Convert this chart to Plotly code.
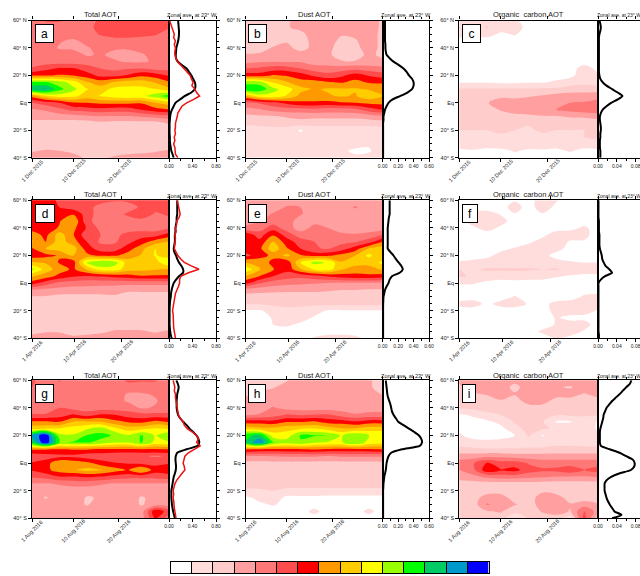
import plotly.graph_objects as go

W, H = 640, 576
FONT = "Liberation Sans, Arial, sans-serif"

LAT_GRID = [60, 55, 50, 45, 40, 35, 30, 25, 20, 15, 10, 5, 0, -5, -10, -15, -20, -25, -30, -35, -40]
LAT_FINE = [60 - 2.5 * i for i in range(41)]
DAYS_31 = [1, 4, 7, 10, 13, 16, 19, 22, 25, 28, 31]
DAYS_30 = [1, 3.9, 6.8, 9.7, 12.6, 15.5, 18.4, 21.3, 24.2, 27.1, 30]

# Contour class index per grid node (rows = latitudes, columns = days)
Z_A = [
[4,4.6,4.6,4,4,4.7,5,5,4.8,4.7,4.6],
[4,4,4,4,4,5,5,5,5,4.6,4.6],
[4,4,4,4,4,4.6,4.8,5,4.8,4.6,4],
[4,4,3.6,3.3,3.8,4,4.2,4,4,4,4],
[4,4,3.4,3.3,3.4,3.8,3.6,3.6,3.8,4,4],
[3.7,3.8,4,4,3.4,3.6,3.3,3.2,3.4,3.8,4],
[4,4,4,4,4,4,3.6,3.4,3.4,3.6,3.6],
[4.6,5.2,5.6,5.6,5,4.5,4.2,4.4,4.5,4.2,4.2],
[6.4,6.4,6.6,6.5,6,5.2,5.2,5.6,6.3,6,5.4],
[10.6,10.6,10,9,7.6,7,7.6,8,8,7.4,6.6],
[12.2,12.6,10.8,9.8,8.6,8,8.8,8.8,8.8,8.5,7.7],
[7,8.4,9,8.8,8,8.6,9,9.2,9.2,10,11],
[4.5,5,5.5,6.4,6.5,6.7,6.7,6.7,6.6,7.5,8],
[3.4,3.6,4.2,4.8,5,5.2,5,5,5.5,6.1,6.4],
[3,3,3,3,3.2,3.4,3.4,3.4,3.6,3.8,4],
[2,2,2,2,2,2.2,2,2,2,2,2.6],
[2,2,2,2,2,2,2,2,2,2,2],
[2,2,2,2,2,2,2,2,2,2,2],
[2,2,2,2,2,2,2,2,2,2,2],
[2.4,2.6,2.5,2.3,2.2,2.2,2.2,2.2,2.3,2.4,2.6],
[3,3,3,2.8,2.4,2.4,2.6,2.8,2.8,3,3],
]
Z_B = [
[2,2,2,2.3,3,3,3,2.8,2.7,3,2.3],
[2,2,2,2.4,2.8,3,3,2.8,2.7,3,2.3],
[2,2,2,2.4,2.2,3,3,2.6,2.7,3,2.2],
[2,2,2,2.4,2.1,2.8,3,2.2,2.4,3,2.2],
[2,2,2.6,2.8,2.1,2.8,2.8,2,2.2,3,2.2],
[2.6,2.7,2.8,3,3,3,2.7,2,2,2.8,2.2],
[3.2,3.4,3.5,3.4,3.4,3,2.9,2.6,2.6,2.8,2.8],
[4.5,4.7,5,5,4.5,4,4,4,4.2,4,3.8],
[6,6,6.6,6.4,6,5.3,4.8,5.3,6,5.4,5],
[10.2,10,8.4,7.6,6.9,7,6.6,6.4,6.8,6.4,6.4],
[11.2,11.2,9.8,9,7.8,7.4,7.6,7.6,7.6,7.4,7],
[7.5,9,9.2,8.4,7.2,7.2,7.4,7.6,7.4,8.2,7.6],
[4.2,4.6,5.2,5.8,6.3,6.3,6.2,6.4,6.5,6.7,6.8],
[3.2,3.4,3.8,4,4,4.2,4,4,4.2,5,5.5],
[2.2,2.3,2.4,2.6,2.8,2.8,2.8,2.8,2.8,3,3.2],
[1.7,1.8,2,2,2,1.8,1.8,1.8,1.8,1.8,2],
[1,1,1,1,.4,1,1,1,1,1,1],
[1,1,1,.6,.8,1,1,1,1,1,1],
[1,1,.8,1,.6,.6,1,1,.7,.6,1],
[1,1,.7,.9,1,1,1,.6,.4,.4,1],
[1,1,.6,1,1,1,1,1,.6,.8,1],
]
Z_C = [
[1.1,1,1,1.1,.6,.2,0,0,0,0,0],
[1,1,1.6,1,.9,.2,0,0,0,0,0],
[1,.7,.9,.3,.6,0,0,0,0,0,0],
[0,0,0,0,0,0,0,0,0,0,0],
[0,0,0,0,0,0,0,0,0,0,0],
[0,0,0,0,0,0,0,0,0,0,0],
[0,0,0,0,0,0,0,0,0,0,0],
[0,0,0,0,0,0,0,0,0,1,.2],
[0,0,0,0,0,0,0,0,.2,1.1,.6],
[.4,.4,.4,.3,.3,.4,.4,.7,1.1,1.2,.9],
[1.6,1.6,1.6,1.6,1.6,1.6,1.7,1.7,1.9,2,2],
[1.8,1.9,2,2.2,2.1,2.4,2.6,2.9,3,3,3.1],
[2,2.1,2.4,3.2,3.2,3.1,3.2,3.3,3.5,3.6,3.9],
[2,2,2,2.6,3.1,3.2,3.4,3.5,3.8,4.1,4.2],
[2,2,2,2,2.1,2.2,2.4,2.4,2.6,2.6,2.8],
[1.7,1.7,1.8,2,2,1.6,1.8,1.8,1.9,2,2],
[1.5,1.5,1.5,1.6,1.5,1.3,1.7,1.5,1.5,1.5,1.6],
[1.5,1.2,1.3,1.4,1.2,1,1.2,1,1,1.5,1.6],
[1.2,1,1,1.2,.9,1.1,1.4,.9,1.2,1,1.1],
[.2,.4,.2,.2,.6,.3,.3,.3,.6,.2,.3],
[0,0,0,0,.2,0,0,0,0,0,0],
]
Z_D = [
[6,6.3,5.2,5,5,5,4.6,4.7,5,5,5],
[6,6,5.5,5,5,4,4,4,4.7,5,5],
[6,6,5.6,6.4,5,4,4,4.7,5.5,4.3,4.7],
[6,6,6.4,7.5,4.8,4,3.6,4,4,4,4.2],
[6,6,6.6,6.8,5.4,4.2,3.6,4,4,4,4.4],
[7,6.2,8,6.6,4.8,4.5,4.2,4.8,5,5,6],
[7.6,6.5,8,7,5.5,4.3,4.3,5.2,6,7,7.5],
[6.4,7.5,8,8,6,5,5,6,7.2,8.5,8.3],
[6,6.2,6.6,7.5,6.8,6.3,6.3,7,7.6,8.6,8],
[7.6,7.4,6.4,6,9.5,10.4,10,8,8.2,8,9.5],
[9.8,8,7,6.3,7.6,9,9,8,7.8,7.6,7.4],
[7.6,7,6.2,5.6,5.4,5.6,5.8,6,6.4,6.3,6.3],
[6,5,4.2,4,3.9,3.8,3.8,3.8,3.8,3.8,3.8],
[3.4,3.2,3.1,3,3,3,3,2.7,2.7,2.7,2.7],
[2.4,2.4,2.2,2.2,2.2,2.2,2.3,2,2,2,2],
[2,2,2,2,2,2,2,2,2,2,2],
[2,2,2,2,2,2,2,2,2,2,2],
[2,2,2,2,2,2,2,2,2,2,2],
[2,2,2,2,2,2,2,2,2,2,2],
[2.1,2.4,2.4,2,2.2,2.3,2.6,2.6,2.6,2.4,2.6],
[3,3,3,2.8,2.8,3,3,3,3,3,3.2],
]
Z_E = [
[3,3,3,3,3,3,3,3,3,3,3],
[3,3,3,3.6,3.5,3,3,3,3.6,3,3],
[3,3,3.6,4,3.6,3,3,3,3,3,3],
[3,3.4,4,4,3,3.2,3,3,3,3,3],
[3.8,4,5,4,3,3.8,3.5,3,3,3,3],
[6.2,5,6.4,5,4,4.2,4,3.7,3.6,3.8,4.5],
[6.4,5.8,7.5,6,5,4.5,4.3,4.2,4.4,5,6.5],
[6,6.2,8.2,6.6,5.5,4.6,4.4,5,6,7.6,8],
[5.2,6,6.8,7.8,6.6,6.2,6.3,6.9,7.5,8.8,7.5],
[7.5,7.2,6.2,5.8,8.5,9.8,9.4,7.6,8,7.8,8.8],
[9.2,7.6,6.6,5.8,7.4,8.6,9,7.6,7,7.2,7.6],
[7.4,6.5,5.5,5,4.8,5.2,5.6,6,6.2,6.2,6],
[5.8,4.6,4,3.8,3.7,3.6,3.5,3.4,3.4,3.4,3.4],
[3,2.9,2.8,2.7,2.7,2.7,2.6,2.5,2.5,2.4,2.4],
[2,2,2,2,2,2,2,2,2,2,2],
[1.6,1.6,1.8,1.7,1.8,1.7,1.8,1.8,1.8,1.8,1.8],
[.4,.4,.8,1.3,1.1,.9,.4,.4,.4,.4,.4],
[0,0,.6,1,1,.4,0,0,0,0,0],
[0,0,.5,.7,.3,0,0,0,0,0,0],
[0,0,0,0,0,0,0,0,0,0,0],
[0,0,0,0,0,.6,1,1,.8,.2,0],
]
Z_F = [
[0,0,0,0,.4,0,1.1,.6,0,0,0],
[0,0,0,0,1,0,1.1,.2,0,0,0],
[0,.8,1,.4,.4,0,.4,0,0,0,0],
[0,1,1.1,.9,0,0,0,0,0,0,0],
[0,.3,.9,.3,0,0,0,0,.2,.7,0],
[0,0,0,0,0,0,.2,1.1,1,.8,0],
[0,0,0,0,0,.3,.9,1,.4,.4,0],
[0,0,0,.2,.6,1,1.1,.8,.2,0,0],
[0,0,.2,.9,1,1,.8,.2,0,0,0],
[.6,.8,1,1,1,1,1,.8,.6,.5,.5],
[1.5,1.4,1.6,1.6,1.6,1.6,1.5,1.6,1.2,1.1,1.2],
[1.6,1.4,1.2,1,1.2,1,1,.6,.4,.2,.2],
[.6,.6,.2,0,0,0,0,0,0,0,0],
[0,0,0,0,0,0,0,0,0,0,0],
[0,0,0,0,.6,0,0,0,0,.7,.9],
[.8,1,.2,.9,1,.4,.2,.8,1,1,.7],
[0,0,0,0,0,0,0,.9,1.1,.9,.4],
[0,0,0,0,0,0,0,.6,.2,.2,.1],
[0,0,0,.2,0,0,0,.6,.9,.9,0],
[0,0,0,0,0,0,.7,1,1,.4,0],
[0,0,0,0,0,0,0,.6,.2,0,0],
]
Z_G = [
[4.7,4,4.6,4,4,4,4,4.7,4.6,4.6,4],
[4.5,4,4,4,3.9,4,4.1,4,4,4,4],
[4,4,4,4,4,4,4,3.4,3.4,3.6,4],
[4,4,4.2,4,4,3.8,3.8,3.4,3.2,3.4,4],
[4,4,4.5,4.2,4,4,4,4,3.4,3.6,3.8],
[4.6,4.6,5,5.6,5,5.6,5.5,5,4.8,4.8,4.8],
[6.6,6.6,6.4,7.5,7.6,7.5,6.8,6.4,6.2,6.8,6.4],
[8.2,8.4,8.6,9,9.4,10,8.8,8,8.2,8.6,8.4],
[12.5,14.4,9.8,9.6,10.6,10.8,10.4,9.6,10.6,9.4,10.5],
[11.6,14.4,10.5,10.6,10.6,10.2,9.6,9.6,10.6,9.2,9.4],
[6.6,6.6,6.4,6.6,6.6,6.4,6.4,6.3,6.4,6.4,6.5],
[4.8,5,5.2,5.2,4.8,4.8,4.6,4.6,4.6,4.4,4.6],
[5.6,6,7.4,7.2,6.8,6,5.6,5.4,5.2,5.2,5.4],
[5.6,6.2,7,7.4,7.8,7.6,7,6.4,7.6,6,6.3],
[4.6,4.8,5.4,5.4,5.6,5.4,5,4.8,4.8,4.8,5],
[3.4,3.4,3.6,3.8,3.8,3.6,3.4,3.4,3.4,3.4,3.4],
[3,3,3,3,3,3,3,3,3,3,3],
[3,2.4,3,3.2,2.4,2.6,3,3,2.4,2.8,3],
[3,3,3.1,3,2.4,3,3.4,3,2.4,3,3],
[3,3,3,3,3,3,3,3,3,6.3,5],
[3,3,3,3.4,3.2,3,3.2,3,3,5.5,4],
]
Z_H = [
[2,2,2,2.4,3,2.8,2.8,2.6,3,2.6,2.2],
[2,2,2.4,3,3,2.9,2.6,2.6,3,2.6,2.2],
[2.4,2.8,3,3,3,3,3,2.8,3.1,3,2.4],
[2.6,3,3,3,3,3,3,3,3,2.9,2.8],
[3,3,3.6,3.2,3,3,3,3,3,3,3],
[3.4,3.6,4,4.6,4.4,4.5,4.6,4,3.6,3.8,3.8],
[6,6,5.8,6.4,6.4,6.6,6.1,6,5.6,6,6],
[8.2,7.8,7.8,8.2,8.4,8.5,8,7.6,7.6,8,8],
[11.2,11.8,9,9,10.6,10.6,10.5,9.4,10.4,9.5,9.5],
[11.5,13.4,10.6,10,10.4,9.6,9.4,9.4,10.4,9.1,9],
[6.6,6.4,6.3,6.4,6.4,6.6,6.4,6.3,6.3,6.4,6.5],
[3.4,3.4,3.5,3.6,3.6,3.6,3.4,3.6,3.6,3.6,3.6],
[2.2,2.2,2.2,2.2,2.2,2.2,2.2,2.2,2.2,2.2,2.2],
[2,2,2,2,2,2,2,2,2,2,2],
[2,2,2,2,2,2,2,2,2,2,2],
[2,2,2,2,2,2,2,2,2,2,2],
[1.3,1.3,1.5,1.2,1.2,1.2,1.2,1.2,1.2,1.2,1.2],
[.3,.8,1,.3,.3,.3,.2,.2,.2,.2,.2],
[.2,.3,.6,.2,0,0,0,0,0,0,0],
[0,0,0,0,0,.8,0,0,0,.8,0],
[0,0,0,0,0,0,0,0,0,0,0],
]
Z_I = [
[2.6,2.8,3,3,2.8,3,3,3,3,3,3],
[2.4,2.8,2.9,3,2.2,3,3.2,2.6,2.4,3,2.9],
[2.4,2.4,2.6,3,2.6,3,2.8,3,3,2.4,3],
[2,2,2,2.4,2,3,3,2,2,2,2],
[1.6,1.8,2,2,2,2,2,2,2,2,2],
[.4,.6,1.2,1.5,1.7,1.8,1.6,1.6,1.7,1.6,1.6],
[.2,.3,.3,.8,1.6,1.8,1.6,.4,.4,1.2,.4],
[.4,.2,.2,.2,1.2,1.8,1.6,1.4,1.3,1,.4],
[.6,.2,.2,.2,.5,1.6,.4,1.4,1.5,1,.6],
[1.2,.8,.7,.8,1,1.2,1.2,1.3,1.3,1.2,1.2],
[1.7,1.7,1.6,1.6,1.6,1.6,1.6,1.7,1.7,1.7,1.7],
[3,3,3.2,3.2,3,3,3,3,3,3,3],
[4,4.4,5.6,5,5,4.4,4,4,4,4,4],
[3.5,4.2,6.2,5.5,5.8,5,4.7,4.8,5.2,4.5,5],
[3,3.2,3.7,4,4,3.8,3.6,3.4,3.4,3.4,3.5],
[2,2,2,2,2,2,2,2,2,2,2],
[2,2,2,2,2.1,2,2.3,2,2,2,2],
[2,2,3,3,2,2,3,3,2,2,2],
[2,2,3.6,3,2.6,2,3,3.2,2.6,3,2.6],
[1.6,2,2.4,2.6,1.8,1.8,2.6,3,2.4,4.6,3],
[1.8,1.8,1.8,2,.5,1.6,2,2,1,5,1.8],
]

# Zonal averages at 23 W on LAT_FINE
BLACK_A = [.155,.16,.165,.17,.17,.165,.155,.14,.125,.12,.115,.12,.15,.22,.30,.34,.38,.41,.44,.45,.44,.38,.27,.19,.11,.08,.05,.03,.02,.015,.01,.01,.01,.01,.015,.015,.02,.03,.04,.06,.08]
RED_A = [.01,.03,.05,.06,.09,.08,.11,.09,.11,.10,.10,.12,.14,.20,.25,.30,.36,.38,.41,.39,.44,.47,.52,.42,.30,.22,.18,.15,.14,.12,.11,.11,.10,.11,.09,.10,.08,.10,.11,.11,.15]
BLACK_B = [.03,.03,.03,.03,.03,.03,.03,.035,.035,.04,.05,.09,.14,.21,.27,.31,.34,.38,.40,.40,.38,.32,.23,.13,.075,.05,.03,.02,.01,.01,.005,.005,.005,.005,.005,.005,.005,.005,.005,.005,.005]
BLACK_C = [.003,.005,.006,.005,.003,.002,.002,.002,.002,.002,.002,.002,.002,.002,.002,.002,.003,.005,.01,.018,.03,.042,.052,.042,.028,.018,.01,.006,.004,.004,.005,.006,.006,.005,.005,.004,.004,.004,.005,.005,.005]
BLACK_D = [.14,.14,.14,.14,.14,.13,.13,.12,.11,.11,.10,.10,.10,.09,.08,.09,.12,.14,.17,.21,.24,.24,.17,.12,.08,.06,.045,.035,.03,.02,.015,.012,.01,.01,.01,.01,.01,.015,.02,.03,.045]
RED_D = [.14,.15,.16,.18,.19,.17,.13,.13,.11,.12,.10,.11,.10,.09,.09,.12,.15,.20,.26,.38,.51,.33,.20,.18,.18,.16,.13,.11,.10,.09,.07,.07,.06,.07,.07,.08,.07,.08,.09,.10,.11]
BLACK_E = [.09,.09,.09,.09,.09,.08,.075,.07,.065,.065,.065,.065,.065,.065,.065,.10,.14,.17,.205,.24,.26,.22,.12,.09,.075,.05,.03,.02,.01,.008,.006,.005,.005,.005,.005,.005,.005,.005,.005,.005,.005]
BLACK_F = [.001,.001,.001,.001,.001,.001,.002,.002,.002,.002,.003,.003,.003,.003,.004,.006,.008,.009,.012,.016,.024,.03,.015,.006,.001,.001,.001,.001,.001,.001,.001,.001,.001,.001,.001,.001,.001,.001,.001,.002,.002]
BLACK_G = [.125,.15,.165,.155,.14,.135,.13,.13,.13,.14,.155,.19,.24,.30,.35,.41,.47,.50,.515,.49,.30,.14,.115,.11,.115,.12,.115,.10,.08,.07,.06,.05,.04,.04,.04,.045,.05,.06,.07,.085,.10]
RED_G = [.07,.08,.10,.09,.11,.11,.12,.13,.14,.14,.16,.19,.24,.26,.31,.40,.47,.50,.47,.53,.44,.33,.27,.25,.24,.26,.27,.22,.17,.13,.10,.09,.07,.08,.07,.08,.08,.09,.10,.11,.12]
BLACK_H = [.04,.045,.05,.055,.06,.07,.085,.10,.11,.12,.14,.17,.20,.27,.34,.41,.47,.50,.51,.48,.25,.11,.075,.06,.05,.045,.04,.03,.02,.015,.01,.008,.005,.005,.005,.005,.005,.005,.005,.005,.005]
BLACK_I = [.071,.068,.06,.053,.046,.038,.03,.024,.018,.015,.012,.011,.009,.007,.005,.004,.004,.004,.004,.006,.025,.046,.06,.074,.078,.077,.07,.045,.028,.018,.014,.014,.014,.016,.018,.021,.025,.03,.035,.05,.03]

COLORS = ["#ffffff","#ffdddd","#ffcccc","#ff9f9f","#ff7878","#ff4c4c","#ff0000","#ff9900",
          "#ffcc00","#ffff00","#99ff00","#00ff00","#00cc66","#0099cc","#0000ff"]
CLASS_INDEX = list(range(15))

LAT_TICKS = [60, 40, 20, 0, -20, -40]
LAT_LABELS = ["60° N", "40° N", "20° N", "Eq", "20° S", "40° S"]
DEC_TICKS = ["1 Dec 2015", "10 Dec 2015", "20 Dec 2015"]
APR_TICKS = ["1 Apr 2016", "10 Apr 2016", "20 Apr 2016"]
AUG_TICKS = ["1 Aug 2016", "10 Aug 2016", "20 Aug 2016"]
DAY_TICKS = [1, 10, 20]
TITLE_TOTAL, TITLE_DUST, TITLE_OC = "Total AOT", "Dust AOT", "Organic  carbon AOT"
ZONAL = "Zonal ave. at 23° W"

COLS = [(32, 169, 216), (245.7, 382.7, 429), (459.3, 598, 640)]
ROWS = [(20.5, 157.7), (200.3, 338.3), (380.3, 518.3)]
TITLE_Y = [14, 194.5, 375]
ZONAL_LEFT = [165, 379.3, 595]
ZONAL_SIZE = [5.6, 5.6, 5.0]
ROW_DAYS = [(DAYS_31, DEC_TICKS), (DAYS_30, APR_TICKS), (DAYS_31, AUG_TICKS)]
PROFILE_AXIS = [  # range, major, minor
    (0.8, 0.4, 0.2), (0.6, 0.2, 0.1), (0.0894, 0.04, 0.02)]
PANELS = [
    ("a", Z_A, BLACK_A, RED_A, 17), ("b", Z_B, BLACK_B, None, 17), ("c", Z_C, BLACK_C, None, 17),
    ("d", Z_D, BLACK_D, RED_D, 18), ("e", Z_E, BLACK_E, None, 17), ("f", Z_F, BLACK_F, None, 14),
    ("g", Z_G, BLACK_G, RED_G, 17), ("h", Z_H, BLACK_H, None, 16), ("i", Z_I, BLACK_I, None, 12),
]

def px(x): return x / W
def py(y): return 1 - y / H

scale = []
n = len(COLORS)
for i, c in enumerate(COLORS):
    scale += [[i / n, c], [(i + 1) / n, c]]

fig = go.Figure()
layout = {}
ann = []
AX = dict(showgrid=False, zeroline=False, showline=True, linecolor="black", linewidth=1.2,
          ticks="outside", tickcolor="black", tickwidth=0.8, ticklen=3,
          tickfont=dict(family=FONT, size=5.5, color="#222"))
axis_no = 1
for idx, (letter, z, black, red, box_w) in enumerate(PANELS):
    r, c = idx // 3, idx % 3
    x0, x1, x2 = COLS[c]
    y0, y1 = ROWS[r]
    days, dlabels = ROW_DAYS[r]
    a1, a2 = axis_no, axis_no + 1
    axis_no += 2
    xn1, yn1, xn2, yn2 = f"x{a1}", f"y{a1}", f"x{a2}", f"y{a2}"
    fig.add_trace(go.Contour(
        x=days, y=LAT_GRID, z=z, xaxis=xn1, yaxis=yn1, showscale=False, zmin=0, zmax=14,
        colorscale=scale, autocontour=False, hoverinfo="skip",
        contours=dict(start=0.5, end=13.5, size=1, coloring="fill", showlines=False),
        line=dict(width=0, smoothing=1)))
    fig.add_trace(go.Scatter(x=black, y=LAT_FINE, xaxis=xn2, yaxis=yn2, mode="lines", showlegend=False,
                             line=dict(color="black", width=2, shape="spline", smoothing=0.6)))
    if red is not None:
        fig.add_trace(go.Scatter(x=red, y=LAT_FINE, xaxis=xn2, yaxis=yn2, mode="lines", showlegend=False,
                                 line=dict(color="#ee1111", width=1.5)))
    layout[f"xaxis{a1}"] = dict(AX, domain=[px(x0), px(x1)], range=[days[0], days[-1]], anchor=yn1,
                                tickmode="array", tickvals=DAY_TICKS, showticklabels=False,
                                mirror="allticks")
    layout[f"yaxis{a1}"] = dict(AX, domain=[py(y1), py(y0)], range=[-40, 60], anchor=xn1,
                                tickmode="array", tickvals=LAT_TICKS, ticktext=LAT_LABELS, mirror=True)
    # date labels are centred on their ticks, which axis tick labels cannot do when rotated
    for day, label in zip(DAY_TICKS, dlabels):
        ann.append(dict(text=label, xref="x" if a1 == 1 else xn1, yref="paper", x=day, y=py(y1 + 12.8),
                        xanchor="center", yanchor="middle", showarrow=False, textangle=-45,
                        font=dict(family=FONT, size=5.5, color="#222")))
    rng, major, minor = PROFILE_AXIS[c]
    layout[f"xaxis{a2}"] = dict(AX, domain=[px(x1), px(x2)], range=[0, rng], anchor=yn2, tick0=0, dtick=major,
                                tickformat=".2f", mirror="allticks", ticklabeloverflow="allow",
                                tickfont=dict(family=FONT, size=5, color="#222"),
                                minor=dict(dtick=minor, tick0=0, ticks="outside", ticklen=2,
                                           tickcolor="black", tickwidth=0.8))
    layout[f"yaxis{a2}"] = dict(AX, domain=[py(y1), py(y0)], range=[-40, 60], anchor=xn2, side="right",
                                tickmode="array", tickvals=LAT_TICKS, showticklabels=False, mirror=True,
                                minor=dict(dtick=5, tick0=0, ticks="outside", ticklen=2,
                                           tickcolor="black", tickwidth=0.8))
    title = [TITLE_TOTAL, TITLE_DUST, TITLE_OC][c]
    ann.append(dict(text=title, xref="paper", yref="paper", x=px((x0 + x1) / 2), y=py(TITLE_Y[r]),
                    xanchor="center", yanchor="middle", showarrow=False,
                    font=dict(family=FONT, size=7.5, color="#222")))
    ann.append(dict(text=ZONAL, xref="paper", yref="paper", x=px(ZONAL_LEFT[c]), y=py(TITLE_Y[r] + 1),
                    xanchor="left", yanchor="middle", showarrow=False,
                    font=dict(family=FONT, size=ZONAL_SIZE[c], color="#222")))
    ann.append(dict(text=letter, xref="paper", yref="paper", x=px(x0 + 2.5), y=py(y0 + 3.5),
                    xanchor="left", yanchor="top", showarrow=False, align="center", width=box_w, height=17,
                    bgcolor="white", bordercolor="black", borderwidth=1, borderpad=0,
                    font=dict(family=FONT, size=12, color="black")))

# Class key along the bottom
kx, ky = f"x{axis_no}", f"y{axis_no}"
fig.add_trace(go.Heatmap(z=[CLASS_INDEX], x=CLASS_INDEX, xaxis=kx, yaxis=ky, showscale=False, zmin=0, zmax=14,
                         colorscale=scale, hoverinfo="skip"))
layout[f"xaxis{axis_no}"] = dict(domain=[px(170.5), px(488.5)], range=[-0.5, 14.5], anchor=ky, showgrid=False,
                                 zeroline=False, showline=True, linecolor="black", linewidth=1, mirror=True,
                                 tickmode="linear", tick0=0.5, dtick=1, ticks="inside", ticklen=11,
                                 tickcolor="black", tickwidth=1, showticklabels=False)
layout[f"yaxis{axis_no}"] = dict(domain=[py(573.3), py(562)], anchor=kx, showgrid=False, zeroline=False,
                                 showline=True, linecolor="black", linewidth=1, mirror=True,
                                 showticklabels=False, ticks="", range=[-0.5, 0.5])

fig.update_layout(width=W, height=H, autosize=False, margin=dict(l=0, r=0, t=0, b=0, autoexpand=False),
                  paper_bgcolor="white", plot_bgcolor="white", showlegend=False,
                  annotations=ann, **layout)
fig.write_html("out.html", config=dict(displayModeBar=False),
               post_script="document.body.style.margin='0';")
